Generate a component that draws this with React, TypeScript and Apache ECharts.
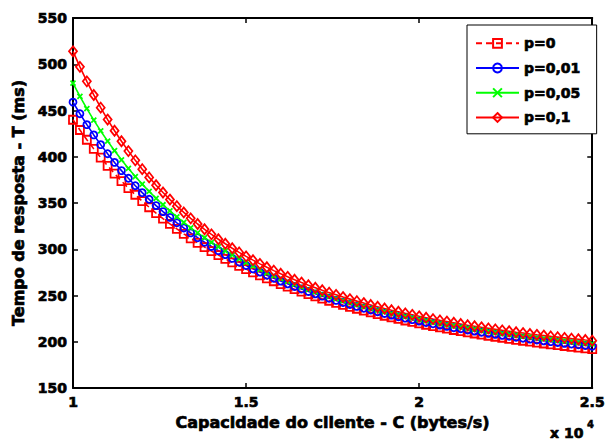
import React, { useEffect, useRef } from "react";
import * as echarts from "echarts";

// Client capacity C (x 10^4 bytes/s)
const C = [
  1.0, 1.02, 1.04, 1.06, 1.08, 1.1, 1.12, 1.14, 1.16, 1.18,
  1.2, 1.22, 1.24, 1.26, 1.28, 1.3, 1.32, 1.34, 1.36, 1.38,
  1.4, 1.42, 1.44, 1.46, 1.48, 1.5, 1.52, 1.54, 1.56, 1.58,
  1.6, 1.62, 1.64, 1.66, 1.68, 1.7, 1.72, 1.74, 1.76, 1.78,
  1.8, 1.82, 1.84, 1.86, 1.88, 1.9, 1.92, 1.94, 1.96, 1.98,
  2.0, 2.02, 2.04, 2.06, 2.08, 2.1, 2.12, 2.14, 2.16, 2.18,
  2.2, 2.22, 2.24, 2.26, 2.28, 2.3, 2.32, 2.34, 2.36, 2.38,
  2.4, 2.42, 2.44, 2.46, 2.48, 2.5,
];

// Response time T (ms)
const T_p0 = [
  440.0, 428.9, 418.4, 408.5, 399.1, 390.2, 381.7, 373.7, 366.1, 358.9,
  352.0, 345.4, 339.1, 333.1, 327.4, 322.0, 316.7, 311.7, 307.0, 302.4,
  298.0, 293.7, 289.7, 285.8, 282.1, 278.5, 275.0, 271.7, 268.5, 265.4,
  262.4, 259.5, 256.8, 254.1, 251.5, 249.0, 246.6, 244.3, 242.0, 239.8,
  237.7, 235.7, 233.7, 231.8, 229.9, 228.1, 226.4, 224.7, 223.0, 221.4,
  219.9, 218.4, 216.9, 215.5, 214.1, 212.7, 211.4, 210.2, 208.9, 207.7,
  206.5, 205.4, 204.3, 203.2, 202.1, 201.1, 200.1, 199.1, 198.1, 197.2,
  196.3, 195.4, 194.5, 193.7, 192.8, 192.0,
];
const T_p001 = [
  459.0, 446.5, 434.7, 423.6, 413.1, 403.3, 393.9, 385.0, 376.7, 368.7,
  361.2, 354.0, 347.2, 340.7, 334.5, 328.6, 323.0, 317.7, 312.5, 307.6,
  303.0, 298.5, 294.2, 290.1, 286.2, 282.4, 278.8, 275.3, 271.9, 268.7,
  265.6, 262.6, 259.8, 257.0, 254.4, 251.8, 249.3, 247.0, 244.7, 242.4,
  240.3, 238.2, 236.2, 234.3, 232.4, 230.6, 228.8, 227.1, 225.5, 223.9,
  222.3, 220.8, 219.4, 218.0, 216.6, 215.2, 214.0, 212.7, 211.5, 210.3,
  209.1, 208.0, 206.9, 205.9, 204.8, 203.8, 202.8, 201.9, 201.0, 200.1,
  199.2, 198.3, 197.5, 196.7, 195.9, 195.1,
];
const T_p005 = [
  479.5, 465.3, 452.1, 439.6, 427.9, 416.9, 406.5, 396.7, 387.4, 378.6,
  370.4, 362.5, 355.1, 348.1, 341.4, 335.0, 329.0, 323.2, 317.7, 312.5,
  307.5, 302.8, 298.2, 293.9, 289.7, 285.8, 282.0, 278.3, 274.8, 271.5,
  268.3, 265.2, 262.3, 259.4, 256.7, 254.0, 251.5, 249.1, 246.7, 244.5,
  242.3, 240.2, 238.2, 236.2, 234.3, 232.5, 230.7, 229.0, 227.4, 225.8,
  224.3, 222.8, 221.3, 219.9, 218.6, 217.3, 216.0, 214.8, 213.6, 212.4,
  211.3, 210.2, 209.1, 208.1, 207.1, 206.1, 205.2, 204.2, 203.3, 202.5,
  201.6, 200.8, 200.0, 199.2, 198.5, 197.7,
];
const T_p01 = [
  514.0, 497.2, 481.5, 466.8, 453.1, 440.2, 428.1, 416.8, 406.1, 396.1,
  386.6, 377.7, 369.2, 361.3, 353.7, 346.6, 339.8, 333.4, 327.3, 321.6,
  316.1, 310.8, 305.9, 301.1, 296.6, 292.3, 288.2, 284.2, 280.5, 276.9,
  273.5, 270.2, 267.0, 264.0, 261.1, 258.4, 255.7, 253.1, 250.7, 248.3,
  246.1, 243.9, 241.8, 239.8, 237.8, 235.9, 234.1, 232.4, 230.7, 229.1,
  227.5, 226.0, 224.5, 223.1, 221.8, 220.5, 219.2, 217.9, 216.8, 215.6,
  214.5, 213.4, 212.3, 211.3, 210.3, 209.4, 208.4, 207.5, 206.7, 205.8,
  205.0, 204.2, 203.4, 202.7, 201.9, 201.2,
];

const SERIES_NAMES = ["p=0", "p=0,01", "p=0,05", "p=0,1"];

const FONT = "'DejaVu Sans', Arial, sans-serif";

export default function App() {
  const ref = useRef<HTMLDivElement>(null);

  useEffect(() => {
    if (!ref.current) return;
    const chart = echarts.init(ref.current, undefined, { renderer: "svg" });

    const pts = (ys: number[]) => C.map((c, i) => [c, ys[i]]);
    const axisLine = { show: true, lineStyle: { color: "#000", width: 2 } };
    const axisTick = { show: true, inside: true, length: 5, lineStyle: { color: "#000", width: 1.5 } };
    const heavy = { textBorderColor: "#000", textBorderWidth: 0.7 };
    const labelStyle = { color: "#000", fontFamily: FONT, fontWeight: "bold" as const, fontSize: 14, ...heavy };
    const nameStyle = { color: "#000", fontFamily: FONT, fontWeight: "bold" as const, fontSize: 16, ...heavy };

    const mk = (name: string, ys: number[], color: string, symbol: string, size: number | number[], dashed = false) => ({
      name,
      type: "line",
      data: pts(ys),
      symbol,
      symbolSize: size,
      showSymbol: true,
      showAllSymbol: true,
      silent: true,
      lineStyle: { color, width: 1.6, type: dashed ? [6, 4] : "solid" },
      itemStyle: { color: "rgba(255,255,255,0)", borderColor: color, borderWidth: 1.8 },
      emphasis: { disabled: true },
    });

    chart.setOption({
      animation: false,
      backgroundColor: "#fff",
      grid: { left: 73, right: 14, top: 18, bottom: 53, containLabel: false },
      xAxis: [
        {
          type: "value",
          min: 1,
          max: 2.5,
          interval: 0.5,
          axisLine,
          axisTick,
          splitLine: { show: false },
          axisLabel: { ...labelStyle, margin: 7 },
          name: "Capacidade do cliente - C (bytes/s)",
          nameLocation: "middle",
          nameGap: 26,
          nameTextStyle: nameStyle,
        },
        {
          type: "value",
          position: "top",
          min: 1,
          max: 2.5,
          interval: 0.5,
          axisLine,
          axisTick,
          splitLine: { show: false },
          axisLabel: { show: false },
        },
      ],
      yAxis: [
        {
          type: "value",
          min: 150,
          max: 550,
          interval: 50,
          axisLine,
          axisTick,
          splitLine: { show: false },
          axisLabel: { ...labelStyle, margin: 6 },
          name: "Tempo de resposta - T (ms)",
          nameLocation: "middle",
          nameGap: 43,
          nameTextStyle: nameStyle,
        },
        {
          type: "value",
          position: "right",
          min: 150,
          max: 550,
          interval: 50,
          axisLine,
          axisTick,
          splitLine: { show: false },
          axisLabel: { show: false },
        },
      ],
      legend: {
        data: SERIES_NAMES,
        orient: "vertical",
        left: 467,
        top: 25,
        padding: [11, 16, 9, 8],
        itemWidth: 43,
        itemHeight: 11,
        itemGap: 10,
        itemTextGap: 4,
        borderColor: "#000",
        borderWidth: 1,
        backgroundColor: "#fff",
        selectedMode: false,
        textStyle: { color: "#000", fontFamily: FONT, fontWeight: "bold", fontSize: 14, ...heavy },
      },
      series: [
        mk(SERIES_NAMES[0], T_p0, "#ff0000", "rect", 8, true),
        mk(SERIES_NAMES[1], T_p001, "#0000ff", "circle", 7),
        mk(SERIES_NAMES[2], T_p005, "#00ff00", "path://M0,0L10,10M10,0L0,10", 5),
        mk(SERIES_NAMES[3], T_p01, "#ff0000", "diamond", [8, 10]),
      ],
      graphic: [
        {
          type: "text",
          x: 550,
          y: 426,
          style: {
            text: "x 10",
            fill: "#000",
            font: `bold 14px ${FONT}`,
            stroke: "#000",
            lineWidth: 0.7,
            verticalAlign: "top",
            align: "left",
          },
        },
        {
          type: "text",
          x: 587,
          y: 419,
          style: {
            text: "4",
            fill: "#000",
            font: `bold 10px ${FONT}`,
            stroke: "#000",
            lineWidth: 0.5,
            verticalAlign: "top",
            align: "left",
          },
        },
      ],
    });

    return () => chart.dispose();
  }, []);

  return (
    <div
      ref={ref}
      style={{ position: "fixed", left: 0, top: 0, width: 608, height: 441, background: "#fff" }}
    />
  );
}
